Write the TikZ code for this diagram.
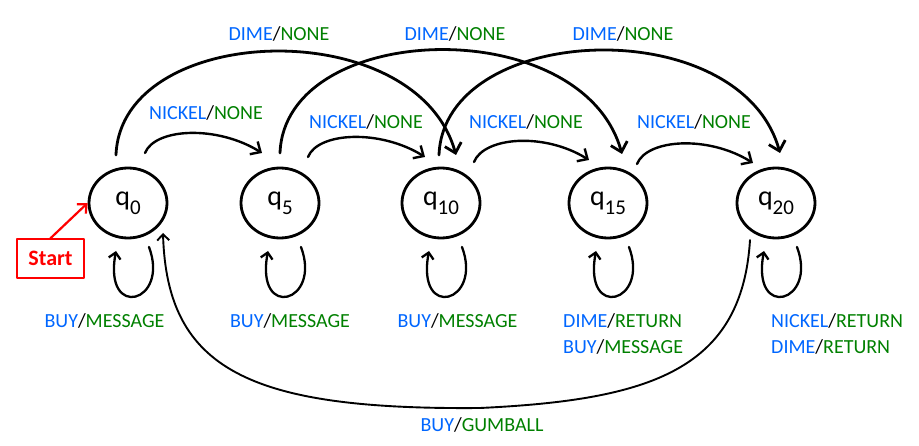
\documentclass[tikz,border=0pt]{standalone}
\usepackage{fontspec}
\setmainfont{Carlito}
\usetikzlibrary{arrows.meta,shapes.geometric}
\definecolor{inblue}{RGB}{0,102,255}
\definecolor{outgreen}{RGB}{0,128,0}
\newcommand{\inout}[2]{\textcolor{inblue}{#1}/\textcolor{outgreen}{#2}}
\newcommand{\qsub}[1]{q\raisebox{-9pt}{\fontsize{21}{21}\selectfont #1}}
\tikzset{
  state/.style={ellipse, draw, line width=2.8pt, minimum width=78pt, minimum height=70pt, inner sep=0pt, font=\fontsize{28}{28}\selectfont},
  io/.style={font=\fontsize{20}{25}\selectfont, text height=13pt, text depth=0pt, inner sep=0pt},
  nickel/.style={line width=2.4pt, -{Straight Barb[length=8pt,width=15pt]}},
  dime/.style={line width=2.8pt, -{Straight Barb[length=9pt,width=17pt]}},
  loopy/.style={line width=2.3pt, -{Straight Barb[length=6pt,width=12pt]}},
  startbox/.style={draw=red, line width=1.5pt, text=red, minimum width=67pt, minimum height=39pt, font=\bfseries\fontsize{22}{22}\selectfont}
}
\begin{document}
\begin{tikzpicture}[x=1pt, y=1pt, line join=round, line cap=round]
\useasboundingbox (0,0) rectangle (919,-446);
% states
\node[state] (q0) at (128,-203) {\qsub{0}};
\node[state] (q5) at (280,-203) {\qsub{5}};
\node[state] (q10) at (441,-203) {\qsub{10}};
\node[state] (q15) at (608,-203) {\qsub{15}};
\node[state] (q20) at (776,-203) {\qsub{20}};
\node[startbox] (start) at (50.5,-258.5) {Start};
\draw[red, line width=2.2pt, -{Straight Barb[length=7pt,width=13pt]}] (start.north) -- (q0.west);
% nickel
\foreach \a/\b/\sx/\sy/\ex/\ey in {q0/q5/17/50/-18/50, q5/q10/28/46/-16/46, q10/q15/33/41/-19/43, q15/q20/29/39/-23/40}
  \draw[nickel] ([shift={(\sx,\sy)}]\a.center) .. controls ([shift={(\sx+10,\sy+25)}]\a.center) and ([shift={(\ex-45,\ey+28)}]\b.center) .. ([shift={(\ex,\ey)}]\b.center);
\node[io] (n0) at (206,-113.5) {\inout{NICKEL}{NONE}};
\node[io] (n5) at (366,-122) {\inout{NICKEL}{NONE}};
\node[io] (n10) at (526,-122) {\inout{NICKEL}{NONE}};
\node[io] (n15) at (694,-122) {\inout{NICKEL}{NONE}};
% dime
\foreach \a/\b/\sx/\sy/\ex/\ey in {q0/q10/-12/48/15/48, q5/q15/0/50/14/49, q10/q20/-2/48/4/50}
  \draw[dime] ([shift={(\sx,\sy)}]\a.center) .. controls ([shift={(\sx+5,\sy+133)}]\a.center) and ([shift={(\ex-40,\ey+143)}]\b.center) .. ([shift={(\ex,\ey)}]\b.center);
\node[io] (d0) at (279,-34) {\inout{DIME}{NONE}};
\node[io] (d5) at (455,-34) {\inout{DIME}{NONE}};
\node[io] (d10) at (623,-34) {\inout{DIME}{NONE}};
% self loops
\foreach \n in {q0,q5,q10,q15,q20}
  \draw[loopy] ([shift={(21,-44)}]\n.center) .. controls ([shift={(42,-100)}]\n.center) and ([shift={(-25,-118)}]\n.center) .. ([shift={(-12,-48)}]\n.center);
\node[io] (m0) at (104.5,-321) {\inout{BUY}{MESSAGE}};
\node[io] (m5) at (290,-321) {\inout{BUY}{MESSAGE}};
\node[io] (m10) at (457.5,-321) {\inout{BUY}{MESSAGE}};
\node[io, anchor=west] (m15a) at (563,-321) {\inout{DIME}{RETURN}};
\node[io, anchor=west] (m15b) at (563,-347) {\inout{BUY}{MESSAGE}};
\node[io, anchor=west] (m20a) at (771,-321) {\inout{NICKEL}{RETURN}};
\node[io, anchor=west] (m20b) at (771,-347) {\inout{DIME}{RETURN}};
% buy from q20
\coordinate (gmid) at (480,-408);
\draw[loopy, line width=1.9pt] ([shift={(-26,-37)}]q20.center) .. controls (742,-370) and (650,-400) .. (gmid) .. controls (250,-410) and (167,-370) .. ([shift={(35,-30)}]q0.center);
\node[io] (g) at (482,-425) {\inout{BUY}{GUMBALL}};
\end{tikzpicture}
\end{document}
